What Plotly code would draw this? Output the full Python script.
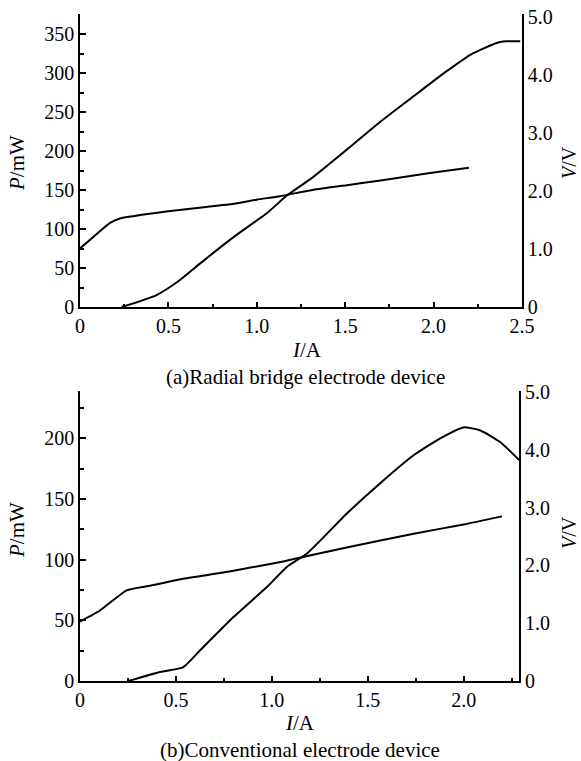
import plotly.graph_objects as go

# ---- (a) Radial bridge electrode device ----
I_a_P = [0.236, 0.43, 0.55, 0.68, 0.87, 1.06, 1.17, 1.32, 1.51, 1.70, 1.89, 2.07, 2.21, 2.36, 2.41, 2.49]
P_a = [0, 15, 32, 56, 90, 121, 143, 167, 202, 238, 271, 302, 324, 339, 341, 341]
I_a_V = [0, 0.08, 0.17, 0.23, 0.35, 0.5, 0.7, 0.87, 1.0, 1.13, 1.32, 1.51, 1.70, 1.98, 2.2]
V_a = [1.01, 1.22, 1.45, 1.53, 1.59, 1.65, 1.72, 1.78, 1.85, 1.91, 2.02, 2.10, 2.18, 2.31, 2.40]

# ---- (b) Conventional electrode device ----
I_b_P = [0.252, 0.417, 0.539, 0.626, 0.8, 0.974, 1.078, 1.183, 1.391, 1.565, 1.739, 1.878, 1.999, 2.087, 2.19, 2.29]
P_b = [0, 7.4, 11.5, 25.3, 52.7, 77.4, 94, 105, 138, 163, 186, 200, 209, 206.5, 197, 182]
I_b_V = [0, 0.104, 0.243, 0.365, 0.539, 0.8, 1.06, 1.18, 1.39, 1.74, 2.0, 2.2]
V_b = [1.03, 1.22, 1.57, 1.65, 1.77, 1.91, 2.07, 2.16, 2.31, 2.55, 2.71, 2.85]

x_ticks_a = [0, 0.5, 1.0, 1.5, 2.0, 2.5]
x_text_a = ["0", "0.5", "1.0", "1.5", "2.0", "2.5"]
x_ticks_b = [0, 0.5, 1.0, 1.5, 2.0]
x_text_b = ["0", "0.5", "1.0", "1.5", "2.0"]
p_ticks_a = [0, 50, 100, 150, 200, 250, 300, 350]
p_ticks_b = [0, 50, 100, 150, 200]
v_ticks = [0, 1, 2, 3, 4, 5]
v_text = ["0", "1.0", "2.0", "3.0", "4.0", "5.0"]

W, H = 581, 761
FONT = "Liberation Serif, Times New Roman, DejaVu Serif, serif"
FS = 20

def px_x(p):
    return p / W

def px_y(p):
    return 1 - p / H

fig = go.Figure()
line = dict(color="black", width=2)
fig.add_trace(go.Scatter(x=I_a_P, y=P_a, mode="lines", line=dict(shape="spline", smoothing=0.5, **line), xaxis="x", yaxis="y", showlegend=False))
fig.add_trace(go.Scatter(x=I_a_V, y=V_a, mode="lines", line=dict(shape="spline", smoothing=0.5, **line), xaxis="x", yaxis="y2", showlegend=False))
fig.add_trace(go.Scatter(x=I_b_P, y=P_b, mode="lines", line=dict(shape="spline", smoothing=0.5, **line), xaxis="x2", yaxis="y3", showlegend=False))
fig.add_trace(go.Scatter(x=I_b_V, y=V_b, mode="lines", line=dict(shape="spline", smoothing=0.5, **line), xaxis="x2", yaxis="y4", showlegend=False))

tf = dict(family=FONT, size=FS, color="black")
common = dict(showline=True, linecolor="black", linewidth=1.5, showgrid=False, zeroline=False,
              tickfont=tf, tickcolor="black", tickwidth=1.5, automargin=False)

def minor(vals, ln):
    return dict(ticks="inside", tickvals=vals, ticklen=ln, tickcolor="black", tickwidth=1.5, showgrid=False)

fig.update_layout(
    width=W, height=H, autosize=False,
    margin=dict(l=0, r=0, t=0, b=0),
    paper_bgcolor="white", plot_bgcolor="white",
    font=dict(family=FONT, color="black"),
    xaxis=dict(domain=[px_x(80), px_x(522)], anchor="y", range=[0, 2.5],
               tickvals=x_ticks_a, ticktext=x_text_a, ticks="inside", ticklen=5,
               minor=minor([0.25, 0.75, 1.25, 1.75, 2.25], 3), **common),
    yaxis=dict(domain=[px_y(307), px_y(14)], anchor="x", range=[0, 376],
               tickvals=p_ticks_a, ticks="inside", ticklen=6,
               minor=minor([25, 75, 125, 175, 225, 275, 325, 375], 4), **common),
    yaxis2=dict(overlaying="y", side="right", anchor="x", range=[0, 5.05],
                tickvals=v_ticks, ticktext=v_text, ticks="", **common),
    xaxis2=dict(domain=[px_x(80), px_x(519.3)], anchor="y3", range=[0, 2.29],
                tickvals=x_ticks_b, ticktext=x_text_b, ticks="inside", ticklen=5,
                minor=minor([0.25, 0.75, 1.25, 1.75, 2.25], 3), **common),
    yaxis3=dict(domain=[px_y(681), px_y(391)], anchor="x2", range=[0, 239],
                tickvals=p_ticks_b, ticks="inside", ticklen=6,
                minor=minor([25, 75, 125, 175, 225], 4), **common),
    yaxis4=dict(overlaying="y3", side="right", anchor="x2", range=[0, 5.02],
                tickvals=v_ticks, ticktext=v_text, ticks="", **common),
)

af = dict(family=FONT, size=21, color="black")
def ann(text, x, y, angle=0, size=21):
    fig.add_annotation(text=text, x=px_x(x), y=px_y(y), xref="paper", yref="paper",
                       showarrow=False, textangle=angle, font=dict(af, size=size),
                       xanchor="center", yanchor="middle")

ann("<i>P</i>/mW", 17, 163, -90)
ann("<i>V</i>/V", 569, 163, -90, 20)
ann("<i>I</i>/A", 307, 350)
ann("(a)Radial bridge electrode device", 305, 377)
ann("<i>P</i>/mW", 17, 530, -90)
ann("<i>V</i>/V", 569, 533, -90, 20)
ann("<i>I</i>/A", 300, 723)
ann("(b)Conventional electrode device", 300, 750)

fig.write_html("out.html", config={"displayModeBar": False},
               post_script="document.body.style.margin='0px';document.body.style.overflow='hidden';")
